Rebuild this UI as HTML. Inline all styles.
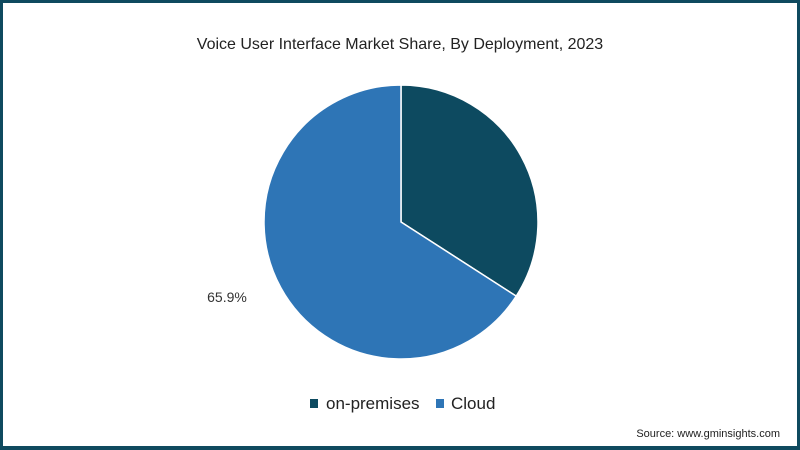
<!DOCTYPE html>
<html><head><meta charset="utf-8"><style>
html,body{margin:0;padding:0;background:#fff}
#frame{position:relative;width:800px;height:450px;box-sizing:border-box;border:3px solid #0f4a5f;border-bottom-width:4px;background:#fff;font-family:"Liberation Sans",sans-serif;overflow:hidden}
svg{position:absolute;left:-3px;top:-3px}
</style></head><body>
<div id="frame">
<svg id="chart" width="800" height="450">
<text x="400" y="49" text-anchor="middle" font-size="16" fill="#222">Voice User Interface Market Share, By Deployment, 2023</text>
<g id="slices"></g>
<text x="227" y="302" text-anchor="middle" font-size="14" fill="#333">65.9%</text>
<g>
<rect x="310" y="399" width="8" height="9" fill="#0d4a60"/>
<text x="326" y="409" font-size="17" fill="#222">on-premises</text>
<rect x="436" y="399" width="8" height="9" fill="#2e75b6"/>
<text x="451" y="409" font-size="17" fill="#222">Cloud</text>
</g>
<text x="780" y="437" text-anchor="end" font-size="11" fill="#222">Source: www.gminsights.com</text>
</svg>
</div>
<script>
const categories = ["on-premises", "Cloud"];
const values = [34.1, 65.9];
const colors = ["#0d4a60", "#2e75b6"];
const cx = 401, cy = 222, r = 137;
const g = document.getElementById('slices');
const total = values.reduce((a,b)=>a+b,0);
let start = 0;
function pt(a){return [cx + r*Math.sin(a), cy - r*Math.cos(a)];}
values.forEach((v,i)=>{
  const a0 = start/total*2*Math.PI, a1 = (start+v)/total*2*Math.PI;
  const p0 = pt(a0), p1 = pt(a1);
  const large = (a1-a0) > Math.PI ? 1 : 0;
  const p = document.createElementNS('http://www.w3.org/2000/svg','path');
  p.setAttribute('d', `M${cx},${cy} L${p0[0]},${p0[1]} A${r},${r} 0 ${large} 1 ${p1[0]},${p1[1]} Z`);
  p.setAttribute('fill', colors[i]);
  p.setAttribute('stroke', '#fff');
  p.setAttribute('stroke-width', '1.5');
  
  
  g.appendChild(p);
  start += v;
});
</script>
</body></html>
